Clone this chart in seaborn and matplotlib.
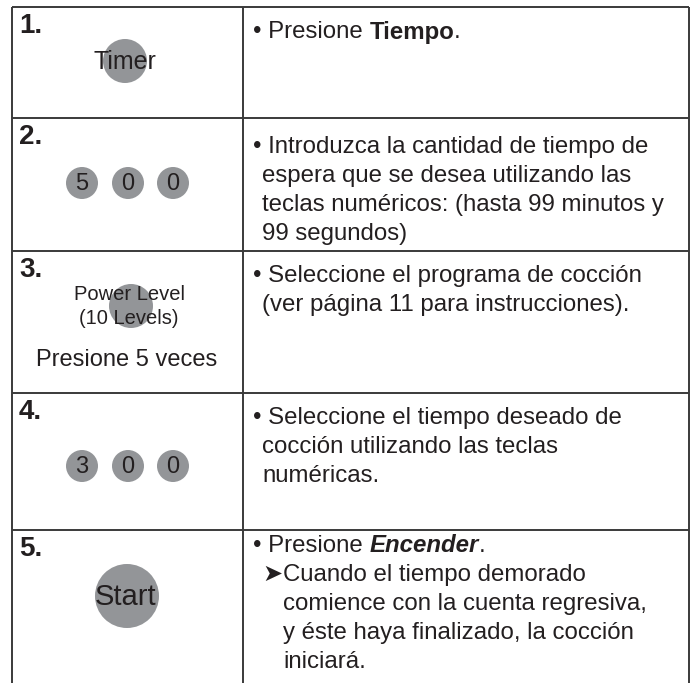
import matplotlib
matplotlib.use("Agg")
import matplotlib.pyplot as plt
from matplotlib.patches import Circle
import seaborn as sns

# contenido de la tabla
step_labels = ['1.', '2.', '3.', '4.', '5.']
timer_key = 'Timer'
wait_digits = ['5', '0', '0']
power_key = ['Power Level', '(10 Levels)']
power_note = 'Presione 5 veces'
cook_digits = ['3', '0', '0']
start_key = 'Start'

# cada línea es una lista de (texto, estilo)
step_texts = [
    [[('• Presione ', 'n'), ('Tiempo', 'b'), ('.', 'n')]],
    [[('• Introduzca la cantidad de tiempo de', 'n')],
     [('espera que se desea utilizando las', 'n')],
     [('teclas numéricos: (hasta 99 minutos y', 'n')],
     [('99 segundos)', 'n')]],
    [[('• Seleccione el programa de cocción', 'n')],
     [('(ver página 11 para instrucciones).', 'n')]],
    [[('• Seleccione el tiempo deseado de', 'n')],
     [('cocción utilizando las teclas', 'n')],
     [('numéricas.', 'n')]],
    [[('• Presione ', 'n'), ('Encender', 'bi'), ('.', 'n')],
     [('➤', 'n'), ('Cuando el tiempo demorado', 'n')],
     [('comience con la cuenta regresiva,', 'n')],
     [('y éste haya finalizado, la cocción', 'n')],
     [('iniciará.', 'n')]],
]

sns.set_style('white')
plt.rcParams['font.family'] = ['Liberation Sans', 'DejaVu Sans']

W, H = 695, 683
fig = plt.figure(figsize=(W / 100, H / 100), dpi=100)
ax = fig.add_axes([0, 0, 1, 1])
ax.set_xlim(0, W)
ax.set_ylim(H, 0)
ax.axis('off')

line_c = '#3a3a3a'
key_c = '#939598'
txt_c = '#231f20'

# rejilla
row_tops = [7, 118, 251, 393, 530]
x_left, x_mid, x_right = 12, 243, 689
for y in row_tops:
    ax.plot([x_left, x_right], [y, y], color=line_c, lw=1.4, solid_capstyle='butt')
for x in (x_left, x_mid, x_right):
    ax.plot([x, x], [7, H], color=line_c, lw=1.4, solid_capstyle='butt')

# números de paso
for top, lab in zip(row_tops, step_labels):
    ax.text(19, top + 19, lab, fontsize=20, fontweight='bold', color=txt_c,
            va='center', ha='left')

def key(x, y, r):
    ax.add_patch(Circle((x, y), r, color=key_c, lw=0))

# 1. Timer
key(125, 61, 22)
ax.text(125, 62, timer_key, fontsize=18, color=txt_c, ha='center', va='center')

# 2. dígitos
for x, d in zip([82, 128, 173], wait_digits):
    key(x, 183, 16)
    ax.text(x, 184, d, fontsize=17, color=txt_c, ha='center', va='center')

# 3. Power Level
key(131, 306, 22)
ax.text(129, 294, power_key[0], fontsize=14.5, color=txt_c, ha='center', va='center')
ax.text(129, 319, power_key[1], fontsize=14.5, color=txt_c, ha='center', va='center')
ax.text(127, 360, power_note, fontsize=17, color=txt_c, ha='center', va='center')

# 4. dígitos
for x, d in zip([82, 128, 173], cook_digits):
    key(x, 466, 16)
    ax.text(x, 467, d, fontsize=17, color=txt_c, ha='center', va='center')

# 5. Start
key(127, 596, 32)
ax.text(126, 597, start_key, fontsize=21, color=txt_c, ha='center', va='center')

# textos de la columna derecha
fig.canvas.draw()
renderer = fig.canvas.get_renderer()
styles = {'n': ('normal', 'normal'), 'b': ('bold', 'normal'), 'bi': ('bold', 'italic')}
first_y = [32, 147, 276, 418, 546]
spacing = 29
for r, lines in enumerate(step_texts):
    for i, runs in enumerate(lines):
        y = first_y[r] + i * spacing
        if i == 0:
            x = 253
        elif r == 4 and i > 1:
            x = 283
        else:
            x = 262
        for j, (s, st) in enumerate(runs):
            w, sty = styles[st]
            t = ax.text(x, y, s, fontsize=17.3, fontweight=w, fontstyle=sty,
                        color=txt_c, ha='left', va='center')
            bb = t.get_window_extent(renderer)
            x = bb.x1
            if r == 4 and i == 1 and j == 0:
                x = 283

fig.savefig('out.png', dpi=100)
